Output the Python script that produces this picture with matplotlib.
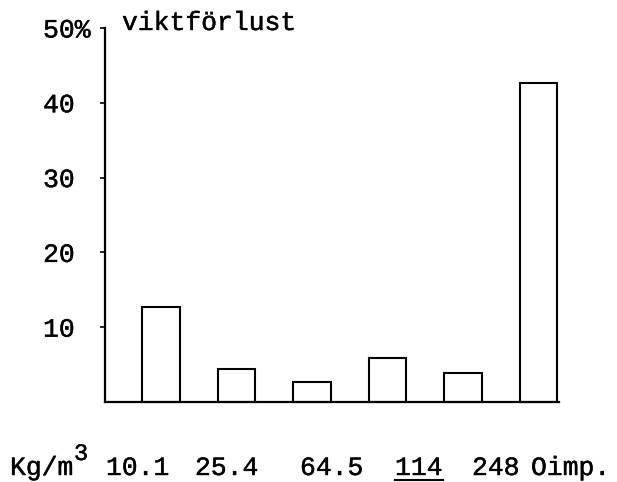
import matplotlib.pyplot as plt
import matplotlib.patheffects as pe
from matplotlib.lines import Line2D

# weight loss (%) per density
densities = ['10.1', '25.4', '64.5', '114', '248', 'Oimp.']
loss = [12.7, 4.4, 2.7, 5.9, 3.9, 42.7]
ytick_vals = [10, 20, 30, 40, 50]
ytick_labels = ['10', '20', '30', '40', '50%']

W, H = 617, 482
font = 'Liberation Mono'
ink = [pe.withStroke(linewidth=0.3, foreground='black')]

fig = plt.figure(figsize=(W / 100, H / 100), dpi=100)
ax = fig.add_axes([105 / W, 80 / H, 454 / W, 374 / H])

x = list(range(len(loss)))
ax.bar(x, loss, width=0.5, facecolor='white', edgecolor='black',
       linewidth=1.5, clip_on=False)

ax.set_xlim(-0.74, 5.27)
ax.set_ylim(0, 50)
ax.spines['top'].set_visible(False)
ax.spines['right'].set_visible(False)
ax.spines['left'].set_linewidth(1.6)
ax.spines['bottom'].set_linewidth(1.6)

ax.set_xticks([])
ax.set_yticks(ytick_vals, ytick_labels)
ax.tick_params(axis='y', length=3.6, width=1.2, pad=41)
for t in ax.get_yticklabels():
    t.set_ha('left')
    t.set_fontfamily(font)
    t.set_fontsize(19)
    t.set_path_effects(ink)

# y-axis title next to top of axis
fig.text(122 / W, 1 - 30 / H, 'viktförlust', family=font, fontsize=19,
         va='baseline', ha='left', path_effects=ink)

# typewritten category line under the chart
label_x = [106, 195, 300, 395, 472, 531]
fig.text(10 / W, 1 - 475 / H, 'Kg/m', family=font, fontsize=19,
         va='baseline', path_effects=ink)
fig.text(74 / W, 1 - 460 / H, '3', family=font, fontsize=17,
         va='baseline', path_effects=ink)
for lab, px in zip(densities, label_x):
    fig.text(px / W, 1 - 475 / H, lab, family=font, fontsize=19,
             va='baseline', path_effects=ink)

# underline under 114
fig.add_artist(Line2D([395 / W, 443 / W], [1 - 480 / H, 1 - 480 / H],
                      color='black', linewidth=1.5))

fig.savefig('out.png', dpi=100)
